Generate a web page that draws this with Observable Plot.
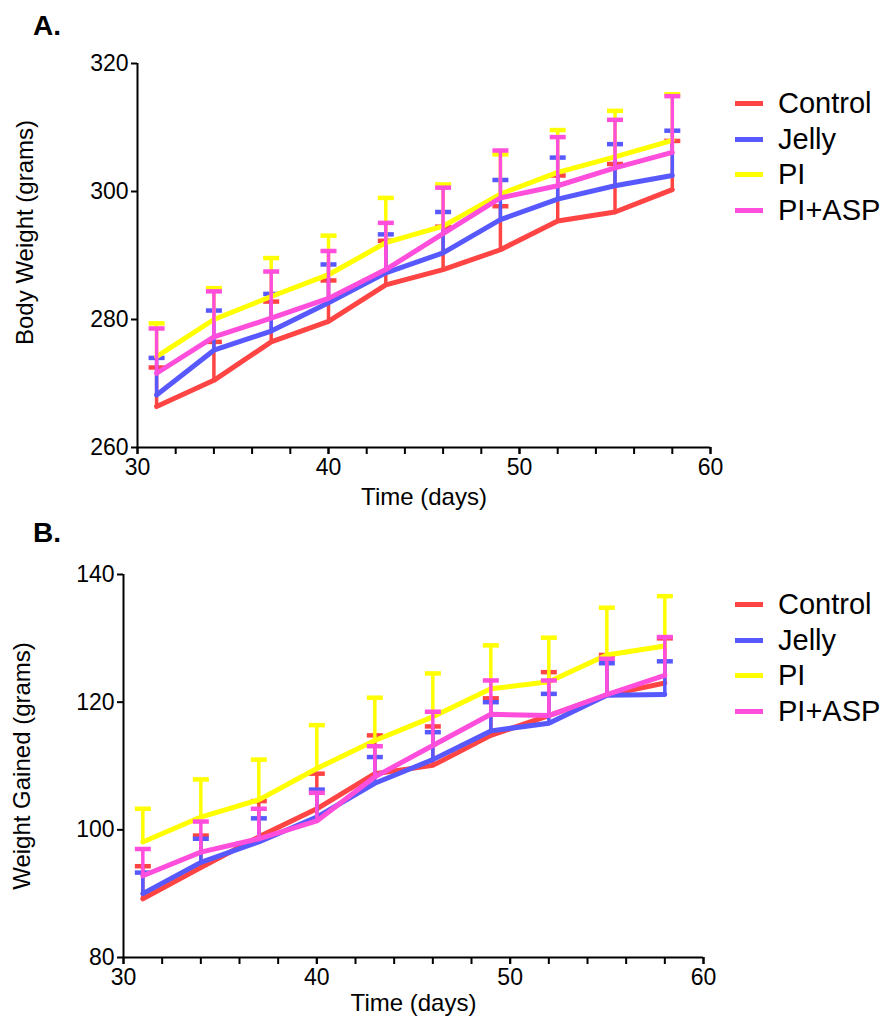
<!DOCTYPE html>
<html><head><meta charset="utf-8">
<script src="https://cdn.jsdelivr.net/npm/d3@7"></script>
<script src="https://cdn.jsdelivr.net/npm/@observablehq/plot@0.6"></script>
<style>
body{margin:0;background:#fff;}
#root{position:relative;width:888px;height:1019px;overflow:hidden;font-family:"Liberation Sans",Arial,sans-serif;color:#000;}
.panel{position:absolute;left:0;}
.plabel{position:absolute;left:33px;font-weight:bold;font-size:28px;line-height:1;}
.legend{position:absolute;left:735px;}
.legend .row{display:flex;align-items:center;height:35.5px;}
.legend .sw{width:28px;height:5px;margin-right:15px;}
.legend .tx{font-size:29px;line-height:1;}
</style></head>
<body><div id="root"></div>
<script>
// ---- data ----
const days = [31, 34, 37, 40, 43, 46, 49, 52, 55, 58];
const seriesNames = ["Control", "Jelly", "PI", "PI+ASP"];
const seriesColors = ["#ff4444", "#5858ff", "#ffff00", "#ff4ddc"];
const xTicksMajor = [30, 40, 50, 60];
const xTicksMinor = [30, 32, 34, 36, 38, 40, 42, 44, 46, 48, 50, 52, 54, 56, 58, 60];

// Panel A: Body Weight (grams) — mean and SEM
const aControlMean = [266.4, 270.5, 276.5, 279.7, 285.4, 287.8, 290.9, 295.4, 296.8, 300.3];
const aControlSem  = [6.1, 6.0, 6.3, 6.4, 6.9, 6.7, 6.8, 7.1, 7.5, 7.6];
const aJellyMean   = [268.2, 275.2, 278.2, 282.6, 287.3, 290.4, 295.6, 298.8, 300.9, 302.5];
const aJellySem    = [5.8, 6.2, 5.8, 6.0, 6.0, 6.4, 6.2, 6.5, 6.5, 7.0];
const aPIMean      = [274.2, 280.0, 283.6, 287.0, 292.0, 294.6, 299.6, 303.0, 305.4, 308.0];
const aPISem       = [5.2, 4.9, 6.0, 6.1, 7.0, 6.5, 6.2, 6.6, 7.2, 7.2];
const aPIASPMean   = [271.6, 277.3, 280.2, 283.3, 287.8, 293.4, 299.0, 300.9, 303.7, 306.1];
const aPIASPSem    = [7.0, 7.1, 7.3, 7.4, 7.3, 7.2, 7.4, 7.6, 7.5, 8.8];
const aYTicks = [260, 280, 300, 320];

// Panel B: Weight Gained (grams) — mean and SEM
const bControlMean = [89.2, 94.1, 98.9, 103.3, 108.8, 110.1, 114.8, 117.9, 121.1, 123.0];
const bControlSem  = [5.1, 5.0, 5.6, 5.5, 6.0, 6.1, 5.8, 6.8, 6.3, 7.0];
const bJellyMean   = [90.0, 94.9, 98.1, 102.0, 107.3, 111.0, 115.5, 116.7, 121.1, 121.2];
const bJellySem    = [3.3, 3.7, 3.7, 4.3, 4.1, 4.3, 4.5, 4.6, 5.0, 5.2];
const bPIMean      = [98.1, 102.0, 104.7, 109.6, 114.0, 117.7, 122.1, 123.2, 127.4, 128.8];
const bPISem       = [5.2, 5.9, 6.3, 6.8, 6.7, 6.8, 6.8, 6.9, 7.4, 7.8];
const bPIASPMean   = [92.8, 96.5, 98.6, 101.4, 108.3, 113.2, 118.1, 117.9, 121.2, 124.2];
const bPIASPSem    = [4.2, 4.8, 4.7, 4.4, 4.8, 5.3, 5.3, 5.5, 5.6, 6.0];
const bYTicks = [80, 100, 120, 140];

// ---- drawing ----
const capSymbol = {draw(ctx) { ctx.moveTo(-8, 0); ctx.lineTo(8, 0); }};

function makePanel(o) {
  const marks = [
    Plot.ruleX([xTicksMajor[0]], {stroke: "#000", strokeWidth: 2}),
    Plot.ruleY([o.yTicks[0]], {stroke: "#000", strokeWidth: 2}),
    Plot.axisX({ticks: xTicksMinor, tickFormat: () => "", tickSize: 7, strokeWidth: 2, label: null}),
    Plot.axisX({ticks: xTicksMajor, tickSize: 7, strokeWidth: 2, tickPadding: 4, fontSize: 23, label: null}),
    Plot.axisY({ticks: o.yTicks, tickSize: 6, strokeWidth: 2, tickPadding: 3, fontSize: 23, label: null})
  ];
  o.means.forEach((m, i) => {
    const c = seriesColors[i];
    const data = days.map((d, j) => ({day: d, mean: m[j], sem: o.sems[i][j]}));
    marks.push(Plot.ruleX(data, {x: "day", y1: "mean", y2: d => d.mean + d.sem, stroke: c, strokeWidth: 3.5}));
    marks.push(Plot.dot(data, {x: "day", y: d => d.mean + d.sem, symbol: capSymbol, stroke: c, strokeWidth: 4.5, fill: "none"}));
    marks.push(Plot.line(data, {x: "day", y: "mean", stroke: c, strokeWidth: 5}));
  });
  marks.push(Plot.text([o.yTitle], {text: d => d, frameAnchor: "left", dx: o.yTitleDx, dy: o.yTitleDy, rotate: -90, fontSize: 24, textAnchor: "middle", lineAnchor: "middle"}));
  marks.push(Plot.text(["Time (days)"], {text: d => d, frameAnchor: "bottom", dy: o.xTitleDy, fontSize: 24, textAnchor: "middle", lineAnchor: "middle"}));
  return Plot.plot({
    width: 888, height: o.height,
    marginTop: o.mt, marginBottom: o.mb, marginLeft: o.ml, marginRight: o.mr,
    x: {domain: [xTicksMajor[0], xTicksMajor[xTicksMajor.length - 1]], label: null},
    y: {domain: [o.yTicks[0], o.yTicks[o.yTicks.length - 1]], label: null},
    style: {fontFamily: "'Liberation Sans', Arial, sans-serif", color: "#000", background: "transparent", overflow: "visible"},
    marks
  });
}

function legend(top) {
  const div = document.createElement("div");
  div.className = "legend";
  div.style.top = top + "px";
  seriesNames.forEach((n, i) => {
    const r = document.createElement("div"); r.className = "row";
    const s = document.createElement("div"); s.className = "sw"; s.style.background = seriesColors[i];
    const t = document.createElement("span"); t.className = "tx"; t.textContent = n;
    r.appendChild(s); r.appendChild(t); div.appendChild(r);
  });
  return div;
}

const root = document.getElementById("root");

const pA = makePanel({
  means: [aControlMean, aJellyMean, aPIMean, aPIASPMean],
  sems: [aControlSem, aJellySem, aPISem, aPIASPSem],
  yTicks: aYTicks, height: 520, mt: 63, mb: 73, ml: 137, mr: 178,
  yTitle: "Body Weight (grams)", yTitleDx: -112, yTitleDy: -23, xTitleDy: 50
});
const wA = document.createElement("div"); wA.className = "panel"; wA.style.top = "0px"; wA.appendChild(pA);
root.appendChild(wA);

const pB = makePanel({
  means: [bControlMean, bJellyMean, bPIMean, bPIASPMean],
  sems: [bControlSem, bJellySem, bPISem, bPIASPSem],
  yTicks: bYTicks, height: 509, mt: 64, mb: 62, ml: 123, mr: 185,
  yTitle: "Weight Gained (grams)", yTitleDx: -101, yTitleDy: 0, xTitleDy: 46
});
const wB = document.createElement("div"); wB.className = "panel"; wB.style.top = "510px"; wB.appendChild(pB);
root.appendChild(wB);

const lA = document.createElement("div"); lA.className = "plabel"; lA.style.top = "12px"; lA.textContent = "A.";
root.appendChild(lA);
const lB = document.createElement("div"); lB.className = "plabel"; lB.style.top = "519px"; lB.textContent = "B.";
root.appendChild(lB);

root.appendChild(legend(86));
root.appendChild(legend(587));
</script>
</body></html>
